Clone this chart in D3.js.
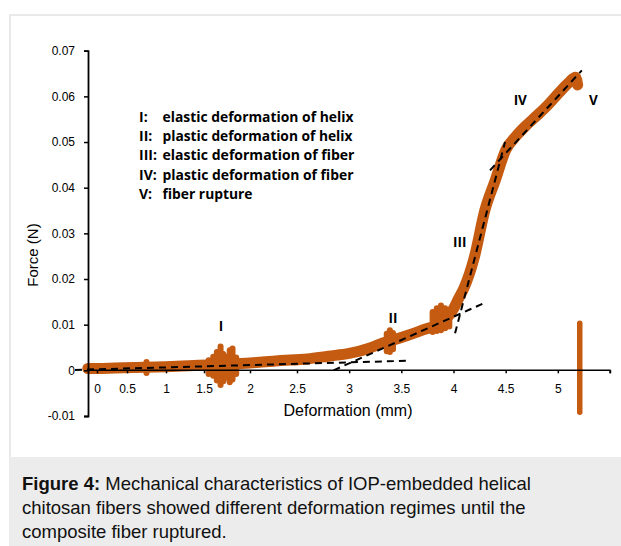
<!DOCTYPE html>
<html>
<head>
<meta charset="utf-8">
<script src="https://cdn.jsdelivr.net/npm/d3@7"></script>
<style>
body { margin: 0; background: #fff; }
svg { display: block; }
</style>
</head>
<body>
<div id="chart-container"></div>
<script>
// tick values / labels
var xTicks = [0, 0.5, 1, 1.5, 2, 2.5, 3, 3.5, 4, 4.5, 5, 5.5];
var xTickLabels = ['0', '0.5', '1', '1.5', '2', '2.5', '3', '3.5', '4', '4.5', '5', ''];
var yTicks = [-0.01, 0, 0.01, 0.02, 0.03, 0.04, 0.05, 0.06, 0.07];
var yTickLabels = ['-0.01', '0', '0.01', '0.02', '0.03', '0.04', '0.05', '0.06', '0.07'];

var deformation = [-0.15, 0, 0.3, 0.6, 1.0, 1.3, 1.7, 2.0, 2.3, 2.6, 2.8, 3.0, 3.2, 3.3, 3.5, 3.7, 3.9, 4.0, 4.05, 4.1, 4.2, 4.3, 4.4, 4.5, 4.6, 4.7, 4.8, 4.9, 5.0, 5.1, 5.17, 5.19];
var force = [0.0004, 0.0004, 0.0005, 0.0006, 0.0008, 0.0010, 0.0013, 0.0016, 0.0021, 0.0025, 0.0031, 0.0037, 0.0049, 0.0058, 0.0072, 0.0088, 0.0107, 0.0135, 0.0158, 0.018, 0.0248, 0.035, 0.0416, 0.0482, 0.0513, 0.0537, 0.0558, 0.058, 0.0605, 0.0629, 0.0642, 0.0625];

// noisy bursts (x, min, max)
var burstX = [0.75, 1.55, 1.6, 1.64, 1.68, 1.71, 1.74, 1.78, 1.81, 1.85, 3.36, 3.39, 3.42, 3.8, 3.84, 3.88, 3.92, 3.96];
var burstLo = [-0.0006, -0.0008, -0.0012, -0.0022, -0.0032, -0.0024, -0.0016, -0.0026, -0.0020, -0.0008, 0.0042, 0.0040, 0.0046, 0.0084, 0.0086, 0.0088, 0.0092, 0.0096];
var burstHi = [0.0018, 0.0022, 0.0030, 0.0040, 0.0052, 0.0036, 0.0030, 0.0044, 0.0048, 0.0028, 0.0080, 0.0088, 0.0082, 0.0128, 0.0136, 0.0142, 0.0136, 0.0130];

// rupture
var ruptureX = 5.21, ruptureLo = -0.0092, ruptureHi = 0.0103;

// linear fits for the regimes
var fitX1 = [-0.36, 2.85, 4.015, 4.35];
var fitY1 = [0.0001, 0.0, 0.0081, 0.0438];
var fitX2 = [3.56, 4.32, 4.494, 5.23];
var fitY2 = [0.0021, 0.0150, 0.050, 0.0657];

// regime labels
var regionNames = ['I', 'II', 'III', 'IV', 'V'];
var regionX = [1.685, 3.42, 4.06, 4.64, 5.34];
var regionY = [0.0096, 0.0114, 0.028, 0.0592, 0.0592];

var legendKeys = ['I:', 'II:', 'III:', 'IV:', 'V:'];
var legendTexts = ['elastic deformation of helix', 'plastic deformation of helix', 'elastic deformation of fiber', 'plastic deformation of fiber', 'fiber rupture'];
var legendWidths = [191, 190, 192, 191, 90];

var captionLines = ['Mechanical characteristics of IOP-embedded helical', 'chitosan fibers showed different deformation regimes until the', 'composite fiber ruptured.'];

var width = 621, height = 546,
    orange = '#c55a11';

var svg = d3.select('#chart-container').append('svg')
    .attr('width', width)
    .attr('height', height);

// frame + caption box
svg.append('rect')
    .attr('x', 10).attr('y', 15)
    .attr('width', width).attr('height', height)
    .attr('fill', 'none').attr('stroke', '#e2e2e2').attr('stroke-width', 1.5);
svg.append('rect')
    .attr('x', 10).attr('y', 457)
    .attr('width', width - 10).attr('height', height - 457)
    .attr('fill', '#ececec');

// the x labels of the original are not evenly spaced, so the scale is piecewise
var xScale = d3.scaleLinear()
    .domain([-0.36, 0, 0.5, 1, 1.5, 2, 2.5, 5.5])
    .range([75, 97, 127, 166, 204, 250, 297, 610]);
var yScale = d3.scaleLinear()
    .domain([-0.01, 0.07])
    .range([416, 50.7]);
var x0 = 88;

var plot = svg.append('g');

// bursts of noise
plot.selectAll('.burst')
    .data(burstX).enter().append('line')
    .attr('class', 'burst')
    .attr('x1', d => xScale(d)).attr('x2', d => xScale(d))
    .attr('y1', (d, i) => yScale(burstLo[i]))
    .attr('y2', (d, i) => yScale(burstHi[i]))
    .attr('stroke', orange).attr('stroke-width', 6).attr('stroke-linecap', 'round');

var line = d3.line()
    .x(d => xScale(d[0]))
    .y(d => yScale(d[1]))
    .curve(d3.curveMonotoneX);

plot.append('path')
    .datum(deformation.map((d, i) => [d, force[i]]))
    .attr('d', line)
    .attr('fill', 'none')
    .attr('stroke', orange)
    .attr('stroke-width', 11)
    .attr('stroke-linejoin', 'round')
    .attr('stroke-linecap', 'round');

plot.append('line')
    .attr('x1', xScale(ruptureX)).attr('x2', xScale(ruptureX))
    .attr('y1', yScale(ruptureLo)).attr('y2', yScale(ruptureHi))
    .attr('stroke', orange).attr('stroke-width', 5.5).attr('stroke-linecap', 'round');

// axes
var xAxis = d3.axisBottom(xScale)
    .tickValues(xTicks)
    .tickFormat((d, i) => xTickLabels[i])
    .tickSize(3)
    .tickSizeOuter(0)
    .tickPadding(11);
var gX = svg.append('g')
    .attr('transform', 'translate(0,' + yScale(0) + ')')
    .call(xAxis);
gX.select('.domain').attr('d', 'M' + x0 + ',0H' + xScale(5.5) + 'V3');
gX.selectAll('line').attr('stroke-width', 1.5);
gX.select('.domain').attr('stroke-width', 1.5);
gX.selectAll('text').attr('font-family', 'Liberation Sans, Arial, sans-serif').attr('font-size', 12).attr('fill', '#000');

var yAxis = d3.axisLeft(yScale)
    .tickValues(yTicks)
    .tickFormat((d, i) => yTickLabels[i])
    .tickSize(4)
    .tickPadding(9);
var gY = svg.append('g')
    .attr('transform', 'translate(' + x0 + ',0)')
    .call(yAxis);
gY.selectAll('line').attr('stroke-width', 1.5);
gY.select('.domain').attr('stroke-width', 1.8);
gY.selectAll('text').attr('font-family', 'Liberation Sans, Arial, sans-serif').attr('font-size', 12).attr('fill', '#000');

// fit lines, drawn on top of everything
var fits = svg.append('g');
fits.selectAll('.fit')
    .data(fitX1).enter().append('line')
    .attr('class', 'fit')
    .attr('x1', d => xScale(d))
    .attr('y1', (d, i) => yScale(fitY1[i]))
    .attr('x2', (d, i) => xScale(fitX2[i]))
    .attr('y2', (d, i) => yScale(fitY2[i]))
    .attr('stroke', '#000').attr('stroke-width', 2).attr('stroke-dasharray', '7,5');

// axis titles
svg.append('text')
    .attr('transform', 'translate(38,255) rotate(-90)')
    .attr('text-anchor', 'middle')
    .attr('font-family', 'Liberation Sans, Arial, sans-serif')
    .attr('font-size', 15)
    .text('Force (N)');
svg.append('text')
    .attr('x', 348).attr('y', 416)
    .attr('text-anchor', 'middle')
    .attr('font-family', 'Liberation Sans, Arial, sans-serif')
    .attr('font-size', 16)
    .text('Deformation (mm)');

// regime labels
svg.selectAll('.region')
    .data(regionNames).enter().append('text')
    .attr('class', 'region')
    .attr('x', (d, i) => xScale(regionX[i]))
    .attr('y', (d, i) => yScale(regionY[i]))
    .attr('dy', '0.35em')
    .attr('text-anchor', 'middle')
    .attr('font-family', 'Open Sans, sans-serif')
    .attr('font-weight', 700)
    .attr('font-size', 13.5)
    .text(d => d);

// legend block
var legend = svg.append('g')
    .attr('font-family', 'Open Sans, sans-serif')
    .attr('font-weight', 700)
    .attr('font-size', 14);
legendKeys.forEach(function (k, i) {
    var t = legend.append('text').attr('y', 117 + i * 19.2).attr('dy', '0.35em');
    t.append('tspan').attr('x', 139).text(k);
    t.append('tspan').attr('x', 162.5)
        .attr('textLength', legendWidths[i])
        .attr('lengthAdjust', 'spacingAndGlyphs')
        .text(legendTexts[i]);
});

// caption
var cap = svg.append('g')
    .attr('font-family', 'Liberation Sans, Arial, sans-serif')
    .attr('font-size', 18.5)
    .attr('fill', '#111');
captionLines.forEach(function (c, i) {
    var t = cap.append('text').attr('x', 22).attr('y', 490 + i * 24);
    if (i === 0) {
        t.append('tspan').attr('font-weight', 700).text('Figure 4:');
        t.append('tspan').text(' ' + c);
    } else {
        t.text(c);
    }
});
</script>
</body>
</html>
